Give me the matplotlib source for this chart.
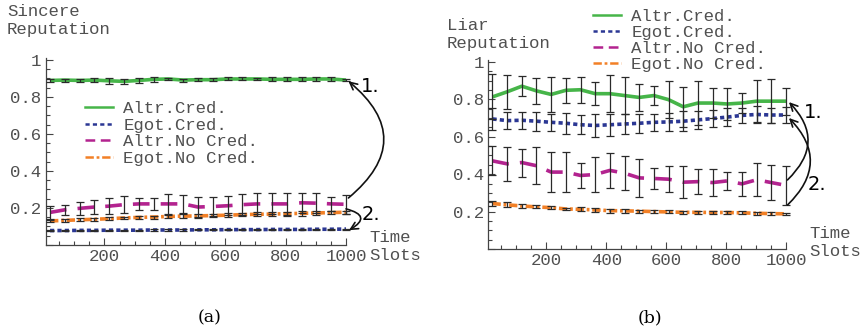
import matplotlib
matplotlib.use("Agg")
import matplotlib.pyplot as plt
from matplotlib.lines import Line2D
from matplotlib.ticker import MultipleLocator, FuncFormatter

plt.rcParams['lines.scale_dashes'] = False

# time slots (x positions of the samples)
x_slots = [20, 69, 118, 167, 216, 265, 314, 363, 412, 461, 510,
           559, 608, 657, 706, 755, 804, 853, 902, 951, 1000]

labels = ["Altr.Cred.", "Egot.Cred.", "Altr.No Cred.", "Egot.No Cred."]

# (a) sincere reputation
a_altr_cred = [0.889, 0.891, 0.889, 0.891, 0.887, 0.884, 0.889, 0.895, 0.897, 0.891, 0.893,
               0.893, 0.897, 0.897, 0.897, 0.895, 0.895, 0.895, 0.897, 0.897, 0.891]
a_altr_cred_err = [0.008, 0.008, 0.006, 0.013, 0.015, 0.013, 0.012, 0.012, 0.005, 0.008, 0.009,
                   0.009, 0.008, 0.008, 0.005, 0.010, 0.010, 0.010, 0.009, 0.010, 0.006]
a_egot_cred = [0.078, 0.078, 0.079, 0.079, 0.080, 0.080, 0.080, 0.081, 0.081, 0.081, 0.082,
               0.082, 0.083, 0.083, 0.083, 0.084, 0.084, 0.084, 0.085, 0.085, 0.086]
a_egot_cred_err = [0.003, 0.003, 0.003, 0.003, 0.003, 0.003, 0.003, 0.003, 0.003, 0.003, 0.003,
                   0.003, 0.003, 0.003, 0.003, 0.003, 0.003, 0.003, 0.003, 0.003, 0.003]
a_altr_nocred = [0.176, 0.190, 0.198, 0.205, 0.210, 0.218, 0.222, 0.222, 0.222, 0.222, 0.205,
                 0.208, 0.212, 0.218, 0.222, 0.222, 0.222, 0.228, 0.226, 0.222, 0.220]
a_altr_nocred_err = [0.034, 0.027, 0.034, 0.040, 0.043, 0.045, 0.032, 0.032, 0.055, 0.050, 0.055,
                     0.052, 0.052, 0.055, 0.057, 0.057, 0.060, 0.055, 0.055, 0.036, 0.050]
a_egot_nocred = [0.130, 0.133, 0.136, 0.139, 0.142, 0.146, 0.149, 0.151, 0.154, 0.156, 0.157,
                 0.159, 0.161, 0.164, 0.166, 0.167, 0.169, 0.171, 0.173, 0.175, 0.177]
a_egot_nocred_err = [0.007, 0.008, 0.008, 0.009, 0.008, 0.007, 0.009, 0.008, 0.010, 0.009, 0.012,
                     0.010, 0.011, 0.010, 0.012, 0.010, 0.011, 0.012, 0.010, 0.009, 0.008]

# (b) liar reputation
b_altr_cred = [0.813, 0.840, 0.870, 0.845, 0.826, 0.848, 0.851, 0.830, 0.830, 0.820, 0.810,
               0.820, 0.798, 0.760, 0.780, 0.780, 0.775, 0.780, 0.790, 0.790, 0.790]
b_altr_cred_err = [0.120, 0.090, 0.055, 0.070, 0.095, 0.067, 0.070, 0.063, 0.100, 0.097, 0.070,
                   0.050, 0.100, 0.106, 0.117, 0.080, 0.085, 0.055, 0.113, 0.118, 0.072]
b_egot_cred = [0.695, 0.686, 0.688, 0.683, 0.677, 0.672, 0.664, 0.660, 0.664, 0.668, 0.672,
               0.677, 0.679, 0.683, 0.690, 0.697, 0.705, 0.714, 0.719, 0.716, 0.716]
b_egot_cred_err = [0.060, 0.045, 0.045, 0.050, 0.045, 0.055, 0.050, 0.060, 0.060, 0.055, 0.050,
                   0.045, 0.050, 0.055, 0.050, 0.045, 0.050, 0.040, 0.045, 0.040, 0.045]
b_altr_nocred = [0.471, 0.455, 0.462, 0.445, 0.411, 0.411, 0.393, 0.398, 0.420, 0.405, 0.380,
                 0.377, 0.373, 0.357, 0.360, 0.355, 0.364, 0.348, 0.370, 0.355, 0.340]
b_altr_nocred_err = [0.077, 0.090, 0.075, 0.100, 0.105, 0.107, 0.067, 0.095, 0.094, 0.090, 0.100,
                     0.054, 0.070, 0.087, 0.067, 0.071, 0.050, 0.063, 0.088, 0.095, 0.106]
b_egot_nocred = [0.243, 0.236, 0.230, 0.225, 0.221, 0.214, 0.212, 0.209, 0.205, 0.204, 0.202,
                 0.200, 0.198, 0.196, 0.196, 0.195, 0.195, 0.193, 0.191, 0.189, 0.188]
b_egot_nocred_err = [0.012, 0.013, 0.010, 0.008, 0.008, 0.007, 0.010, 0.009, 0.010, 0.012, 0.008,
                     0.006, 0.008, 0.008, 0.007, 0.008, 0.009, 0.008, 0.008, 0.008, 0.006]

colors = ["#46b549", "#2b3794", "#b3238f", "#f28026"]
styles = ["-", (0, (3, 2.3)), (0, (12, 8)), (0, (6, 2, 2, 2))]
legend_styles = ["-", (0, (3, 2.3)), (0, (7, 4)), (0, (6, 2, 2, 2))]

mono = "Liberation Mono"
txt_col = "#505050"


def draw_panel(ax, series, errs):
    for ys, es, c, ls in zip(series, errs, colors, styles):
        ax.plot(x_slots, ys, color=c, linestyle=ls, lw=2.6, zorder=2,
                solid_capstyle='butt', dash_capstyle='butt', clip_on=False)
        ax.errorbar(x_slots, ys, yerr=es, fmt='none', ecolor='#2a2a2a', elinewidth=0.9,
                    capsize=3.2, capthick=0.9, zorder=3, clip_on=False)
    ax.set_xlim(5, 1000)
    ax.set_ylim(0, 1.01)
    for s in ["top", "right"]:
        ax.spines[s].set_visible(False)
    for s in ["left", "bottom"]:
        ax.spines[s].set_color("#444444")
        ax.spines[s].set_linewidth(0.9)
    ax.xaxis.set_major_locator(MultipleLocator(200))
    ax.xaxis.set_minor_locator(MultipleLocator(50))
    ax.yaxis.set_major_locator(MultipleLocator(0.2))
    ax.yaxis.set_minor_locator(MultipleLocator(0.05))
    ax.xaxis.set_major_formatter(FuncFormatter(lambda v, p: "" if v < 100 else f"{v:.0f}"))
    ax.yaxis.set_major_formatter(FuncFormatter(
        lambda v, p: "" if v < 0.1 else ("1" if v > 0.99 else f"{v:.1f}")))
    ax.tick_params(which='both', direction='in', color='#444444', width=0.8,
                   labelcolor=txt_col, labelsize=12.5, pad=3)
    ax.tick_params(which='major', length=5)
    ax.tick_params(which='minor', length=3)
    for lab in ax.get_xticklabels() + ax.get_yticklabels():
        lab.set_family(mono)
    ax.patch.set_visible(False)


def legend_handles():
    return [Line2D([], [], color=c, linestyle=ls, lw=1.8) for c, ls in zip(colors, legend_styles)]


fig = plt.figure(figsize=(8.62, 3.35), dpi=100)

ax1 = fig.add_axes([0.0528, 0.2687, 0.3486, 0.558])
draw_panel(ax1, [a_altr_cred, a_egot_cred, a_altr_nocred, a_egot_nocred],
           [a_altr_cred_err, a_egot_cred_err, a_altr_nocred_err, a_egot_nocred_err])

ax2 = fig.add_axes([0.5661, 0.2567, 0.3457, 0.5642])
draw_panel(ax2, [b_altr_cred, b_egot_cred, b_altr_nocred, b_egot_nocred],
           [b_altr_cred_err, b_egot_cred_err, b_altr_nocred_err, b_egot_nocred_err])

leg_font = {"family": mono, "size": 12.5}
fig.legend(legend_handles(), labels, loc='upper left', bbox_to_anchor=(85 / 862, 1 - 101 / 335),
           frameon=False, prop=leg_font, labelcolor=txt_col, handlelength=1.6,
           handletextpad=0.6, labelspacing=0.08, borderpad=0, borderaxespad=0)
fig.legend(legend_handles(), labels, loc='upper left', bbox_to_anchor=(593 / 862, 1 - 9 / 335),
           frameon=False, prop=leg_font, labelcolor=txt_col, handlelength=1.6,
           handletextpad=0.6, labelspacing=0.05, borderpad=0, borderaxespad=0)

# axis titles
title_kw = dict(family=mono, size=12.5, color=txt_col, va='top', ha='left', linespacing=1.25)
fig.text(7 / 862, 1 - 4 / 335, "Sincere\nReputation", **title_kw)
fig.text(447 / 862, 1 - 18 / 335, "Liar\nReputation", **title_kw)
fig.text(369 / 862, 1 - 230 / 335, "Time\nSlots", **title_kw)
fig.text(809 / 862, 1 - 226 / 335, "Time\nSlots", **title_kw)

# arrows + numbering
arrow_kw = dict(arrowstyle='->', lw=1.2, color='#111111', shrinkA=0, shrinkB=0,
                mutation_scale=13)
ax1.annotate("", xy=(1008, 0.885), xytext=(1008, 0.254), annotation_clip=False,
             arrowprops=dict(connectionstyle='arc3,rad=0.6', **arrow_kw))
ax1.annotate("", xy=(1010, 0.08), xytext=(1000, 0.195), annotation_clip=False,
             arrowprops=dict(connectionstyle='arc3,rad=-1.2', **arrow_kw))
ax2.annotate("", xy=(1010, 0.785), xytext=(1005, 0.369), annotation_clip=False,
             arrowprops=dict(connectionstyle='arc3,rad=0.5', **arrow_kw))
ax2.annotate("", xy=(1010, 0.70), xytext=(1005, 0.235), annotation_clip=False,
             arrowprops=dict(connectionstyle='arc3,rad=0.5', **arrow_kw))

num_kw = dict(family="DejaVu Sans", size=14, va='center', ha='center')
fig.text(370 / 862, 1 - 86 / 335, "1.", **num_kw)
fig.text(371 / 862, 1 - 215 / 335, "2.", **num_kw)
fig.text(813 / 862, 1 - 113 / 335, "1.", **num_kw)
fig.text(817 / 862, 1 - 185 / 335, "2.", **num_kw)

fig.text(210 / 862, 1 - 318 / 335, "(a)", family="DejaVu Serif", size=12.5, va='center', ha='center')
fig.text(650 / 862, 1 - 318 / 335, "(b)", family="DejaVu Serif", size=12.5, va='center', ha='center')

fig.savefig("out.png", dpi=100)
